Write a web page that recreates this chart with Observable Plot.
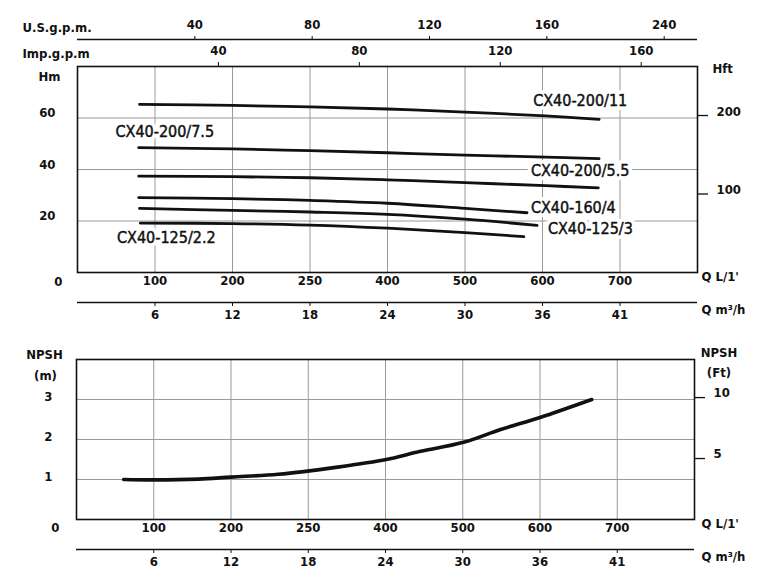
<!DOCTYPE html>
<html><head><meta charset="utf-8">
<script src="https://cdn.jsdelivr.net/npm/d3@7"></script>
<script src="https://cdn.jsdelivr.net/npm/@observablehq/plot@0.6"></script>
<style>
html,body{margin:0;padding:0;background:#fff;}
#chart{width:774px;height:586px;position:relative;overflow:hidden;}
#chart svg{display:block;}
</style></head><body><div id="chart"></div>
<script>
// ---- axis ticks & labels ----
const qTicks = [100, 200, 300, 400, 500, 600, 700];          // L/min positions
const qLabels = ["100", "200", "250", "400", "500", "600", "700"];
const m3hLabels = ["6", "12", "18", "24", "30", "36", "41"];
const usTicks = [40, 80, 120, 160, 200];                      // US gpm
const usLabels = ["40", "80", "120", "160", "240"];
const impTicks = [40, 80, 120, 160];                          // Imp gpm
const hmTicks = [20, 40, 60];
const hftTicks = [100, 200];
const npshMTicks = [1, 2, 3];
const npshFtTicks = [5, 10];

const L_PER_USGAL = 3.785, L_PER_IMPGAL = 4.546, M_PER_FT = 0.3048;

// ---- pump curves (Q L/min, H m) ----
const models = ["CX40-200/11", "CX40-200/7.5", "CX40-200/5.5", "CX40-160/4", "CX40-125/3", "CX40-125/2.2"];
const q_200_11  = [80, 200, 300, 400, 500, 604, 673];
const h_200_11  = [65.3, 64.9, 64.3, 63.5, 62.3, 60.8, 59.5];
const q_200_75  = [79, 200, 300, 400, 500, 604, 673];
const h_200_75  = [48.5, 48.0, 47.3, 46.5, 45.6, 44.8, 44.2];
const q_200_55  = [79, 200, 300, 400, 500, 604, 672];
const h_200_55  = [37.4, 37.2, 36.8, 36.0, 34.9, 33.7, 32.9];
const q_160_4   = [79, 200, 300, 400, 500, 580];
const h_160_4   = [29.1, 28.7, 28.0, 26.9, 24.9, 23.2];
const q_125_3   = [80, 200, 300, 400, 500, 593];
const h_125_3   = [24.9, 24.1, 23.5, 22.6, 20.7, 18.3];
const q_125_22  = [81, 200, 300, 400, 500, 576];
const h_125_22  = [19.2, 19.0, 18.4, 17.2, 15.5, 13.9];

// label anchors (Q L/min, H m)
const labelQ = [588, 49, 585, 585, 607, 51];
const labelH = [66.6, 54.8, 39.4, 25.2, 17.0, 13.4];

// ---- NPSH curve (Q L/min, NPSH m) ----
const npshQ = [61, 100, 158, 200, 261, 338, 401, 440, 501, 549, 600, 667];
const npshV = [1.0, 0.99, 1.01, 1.06, 1.13, 1.31, 1.5, 1.68, 1.93, 2.25, 2.55, 3.0];

// ---- build tables ----
const qs = [q_200_11, q_200_75, q_200_55, q_160_4, q_125_3, q_125_22];
const hs = [h_200_11, h_200_75, h_200_55, h_160_4, h_125_3, h_125_22];
const curves = models.flatMap((m, i) => qs[i].map((q, j) => ({model: m, q, h: hs[i][j]})));
const labels = models.map((m, i) => ({name: m, q: labelQ[i], h: labelH[i]}));
const npsh = npshQ.map((q, i) => ({q, v: npshV[i]}));

const qFmt = new Map(qTicks.map((t, i) => [t, qLabels[i]]));
const m3Fmt = new Map(qTicks.map((t, i) => [t, m3hLabels[i]]));
const usT = usTicks.map(v => v * L_PER_USGAL);
const usFmt = new Map(usT.map((t, i) => [t, usLabels[i]]));
const impT = impTicks.map(v => v * L_PER_IMPGAL);
const impFmt = new Map(impT.map((t, i) => [t, String(impTicks[i])]));
const hftT = hftTicks.map(v => v * M_PER_FT);
const hftFmt = new Map(hftT.map((t, i) => [t, String(hftTicks[i])]));
const nftT = npshFtTicks.map(v => v * M_PER_FT);
const nftFmt = new Map(nftT.map((t, i) => [t, String(npshFtTicks[i])]));
const intFmt = d => String(d);

const font = "'DejaVu Sans Condensed','DejaVu Sans',sans-serif";
const ink = "#111";
const gridC = "#9a9a9a";
const baseStyle = {fontFamily: font, fontSize: "13px", fontWeight: "bold", color: ink, background: "#fff", overflow: "visible", fontStretch: "condensed"};

function title(t, anchor, dx, dy, textAnchor = "start") {
  return Plot.text([t], {text: d => d, frameAnchor: anchor, dx, dy, textAnchor, fill: ink});
}

function bottomAxes(rightPad) {
  return [
    Plot.axisX({anchor: "bottom", label: null, ticks: qTicks, tickSize: 0, tickPadding: 3, tickFormat: d => qFmt.get(d)}),
    Plot.ruleY([0], {dy: 30, stroke: ink, strokeWidth: 1.5}),
    Plot.axisX({anchor: "bottom", label: null, ticks: qTicks, tickSize: 4, tickPadding: 3, dy: 30, tickFormat: d => m3Fmt.get(d), stroke: ink}),
    title("Q L/1'", "bottom-right", rightPad, 8),
    title("Q m³/h", "bottom-right", rightPad, 41)
  ];
}

const topPlot = Plot.plot({
  width: 774, height: 330,
  marginLeft: 77, marginRight: 77, marginTop: 66, marginBottom: 58,
  x: {domain: [0, 800], axis: null},
  y: {domain: [0, 80], axis: null},
  style: baseStyle,
  marks: [
    Plot.gridX(qTicks, {stroke: gridC, strokeOpacity: 1, strokeWidth: 1}),
    Plot.gridY(hmTicks, {stroke: gridC, strokeOpacity: 1, strokeWidth: 1}),
    Plot.line(curves, {x: "q", y: "h", z: "model", curve: "catmull-rom", stroke: ink, strokeWidth: 2.8}),
    Plot.text(labels, {x: "q", y: "h", text: "name", textAnchor: "start", fontSize: 16, fontWeight: "normal", fill: "white", stroke: "white", strokeWidth: 8}),
    Plot.text(labels, {x: "q", y: "h", text: "name", textAnchor: "start", fontSize: 16, fontWeight: "normal", fill: ink, stroke: ink, strokeWidth: 0.45}),
    Plot.frame({stroke: ink, strokeWidth: 1.6}),
    // top axes
    Plot.axisX({anchor: "top", label: null, ticks: impT, tickSize: 5, tickPadding: 7, tickFormat: d => impFmt.get(d), stroke: ink}),
    Plot.ruleY([80], {dy: -27, stroke: ink, strokeWidth: 1.5}),
    Plot.axisX({anchor: "top", label: null, ticks: usT, tickSize: 4, tickPadding: 7, dy: -27, tickFormat: d => usFmt.get(d), stroke: ink}),
    title("U.S.g.p.m.", "top-left", -55, -44),
    title("Imp.g.p.m", "top-left", -55, -18),
    // left axis
    Plot.axisY({anchor: "left", label: null, ticks: hmTicks, tickSize: 0, tickPadding: 22, dy: -5, tickFormat: intFmt}),
    Plot.axisY({anchor: "left", label: null, ticks: [0], tickSize: 0, tickPadding: 15, dy: 9, tickFormat: intFmt}),
    title("Hm", "top-left", -28, 5, "middle"),
    // right axis (ft)
    Plot.axisY({anchor: "right", label: null, ticks: hftT, tickSize: 10, tickFormat: () => "", stroke: ink, strokeWidth: 1.3}),
    Plot.axisY({anchor: "right", label: null, ticks: hftT, tickSize: 0, tickPadding: 19, dy: -4, tickFormat: d => hftFmt.get(d)}),
    title("Hft", "top-right", 15, -3),
    ...bottomAxes(4)
  ]
});

const botPlot = Plot.plot({
  width: 774, height: 256,
  marginLeft: 76, marginRight: 80, marginTop: 29, marginBottom: 67,
  x: {domain: [0, 800], axis: null},
  y: {domain: [0, 4], axis: null},
  style: baseStyle,
  marks: [
    Plot.gridX(qTicks, {stroke: gridC, strokeOpacity: 1, strokeWidth: 1}),
    Plot.gridY(npshMTicks, {stroke: gridC, strokeOpacity: 1, strokeWidth: 1}),
    Plot.line(npsh, {x: "q", y: "v", curve: "catmull-rom", stroke: ink, strokeWidth: 3.6}),
    Plot.frame({stroke: ink, strokeWidth: 1.6}),
    Plot.axisY({anchor: "left", label: null, ticks: npshMTicks, tickSize: 0, tickPadding: 24, dy: -3, tickFormat: intFmt}),
    Plot.axisY({anchor: "left", label: null, ticks: [0], tickSize: 0, tickPadding: 17, dy: 8, tickFormat: intFmt}),
    title("NPSH", "top-left", -32, -10, "middle"),
    title("(m)", "top-left", -31, 11, "middle"),
    Plot.axisY({anchor: "right", label: null, ticks: nftT, tickSize: 10, tickFormat: () => "", stroke: ink, strokeWidth: 1.3}),
    Plot.axisY({anchor: "right", label: null, ticks: nftT, tickSize: 0, tickPadding: 19, dy: -5, tickFormat: d => nftFmt.get(d)}),
    title("NPSH", "top-right", 24.5, -11.5, "middle"),
    title("(Ft)", "top-right", 24.5, 8, "middle"),
    ...bottomAxes(7)
  ]
});

const chart = document.getElementById("chart");
chart.appendChild(topPlot);
chart.appendChild(botPlot);
</script>
</body></html>
